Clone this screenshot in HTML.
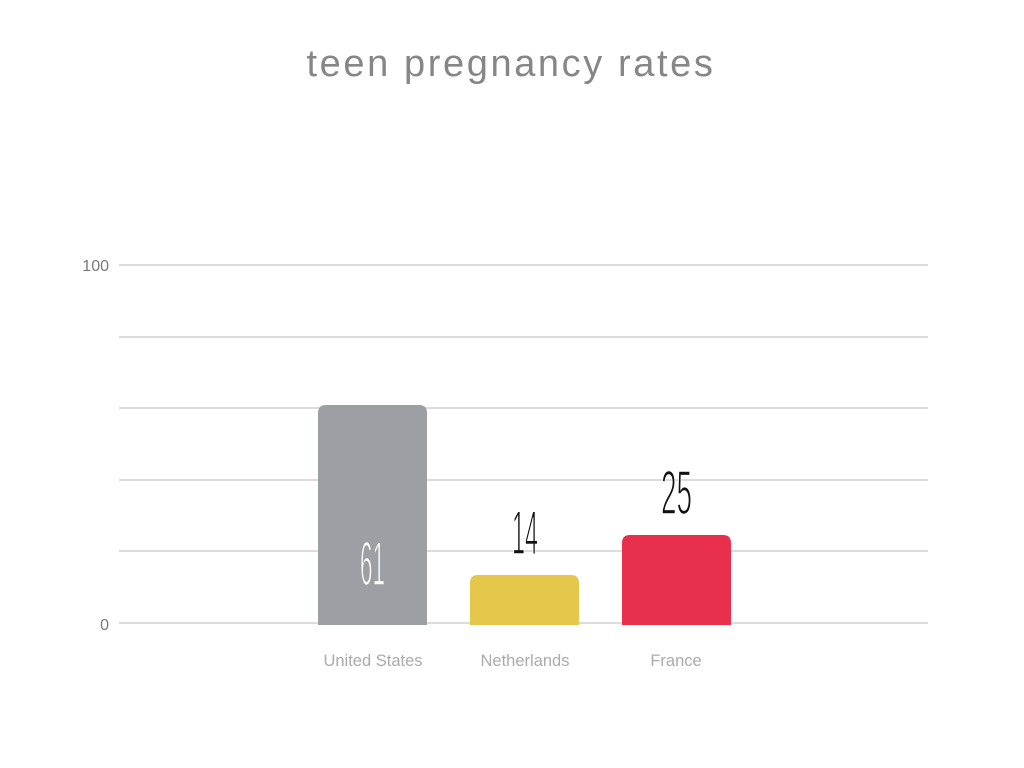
<!DOCTYPE html>
<html><head><meta charset="utf-8"><style>
html,body{margin:0;padding:0;background:#fff;}
svg{display:block;}
</style></head><body>
<svg width="1024" height="768" xmlns="http://www.w3.org/2000/svg">
<rect width="1024" height="768" fill="#fff"/>
<text x="511" y="76" text-anchor="middle" font-family="Liberation Sans, sans-serif" font-size="38" fill="#868686" letter-spacing="2.6">teen pregnancy rates</text>
<g stroke="#dcdcdc" stroke-width="2">
<line x1="119" y1="265" x2="928" y2="265"/>
<line x1="119" y1="337" x2="928" y2="337"/>
<line x1="119" y1="408" x2="928" y2="408"/>
<line x1="119" y1="480" x2="928" y2="480"/>
<line x1="119" y1="551" x2="928" y2="551"/>
<line x1="119" y1="623" x2="928" y2="623"/>
</g>
<g font-family="Liberation Sans, sans-serif" font-size="16" fill="#7a7a7a" text-anchor="end">
<text x="109" y="271">100</text>
<text x="109" y="630">0</text>
</g>
<path d="M318 625 V413 Q318 405 326 405 H419 Q427 405 427 413 V625 Z" fill="#9ca0a4"/>
<path d="M470 625 V583 Q470 575 478 575 H571 Q579 575 579 583 V625 Z" fill="#e4c74b"/>
<path d="M622 625 V543 Q622 535 630 535 H723 Q731 535 731 543 V625 Z" fill="#e8304c"/>
<g font-family="Liberation Sans, sans-serif" font-size="62">
<text x="360" y="585" textLength="25" lengthAdjust="spacingAndGlyphs" fill="#fff" stroke="#9ca0a4" stroke-width="1.6">61</text>
<text x="512" y="554" textLength="26" lengthAdjust="spacingAndGlyphs" fill="#111" stroke="#fff" stroke-width="1.6">14</text>
<text x="661" y="514" textLength="31" lengthAdjust="spacingAndGlyphs" fill="#111" stroke="#fff" stroke-width="1.6">25</text>
</g>
<g font-family="Liberation Sans, sans-serif" font-size="16.5" fill="#ababab" text-anchor="middle">
<text x="373" y="666">United States</text>
<text x="525" y="666">Netherlands</text>
<text x="676" y="666">France</text>
</g>
</svg>
</body></html>
